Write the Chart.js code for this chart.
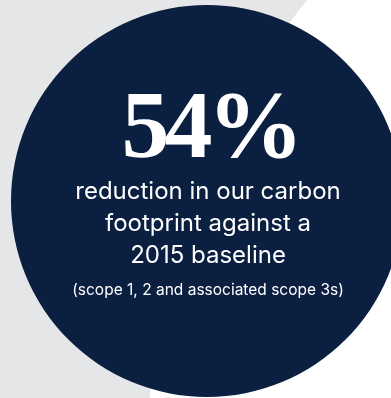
<!doctype html>
<html lang="en">
<head>
<meta charset="utf-8">
<title>54% reduction</title>
<style>
  * { box-sizing: border-box; margin: 0; padding: 0; }
  html, body { width: 391px; height: 398px; overflow: hidden; background: #fff; }
  .stage { position: relative; width: 414px; height: 402px; }
  canvas { position: absolute; left: 0; top: 0; }
  .txt { position: absolute; left: 0; width: 416px; text-align: center; color: #fff; white-space: nowrap; }
  .big { top: 70px; left: 2px; font: bold 96px "Liberation Serif", serif; letter-spacing: -5px; line-height: 110px; }
  .sub { top: 175px; font: 24px Inter, "Noto Sans", sans-serif; line-height: 32px; }
  .note { top: 281px; font: 15.5px Inter, "Noto Sans", sans-serif; line-height: 18px; }
</style>
</head>
<body>
<div class="stage">
  <canvas id="disc" width="414" height="402"></canvas>
  <div class="txt big" id="big"></div>
  <div class="txt sub" id="sub"></div>
  <div class="txt note" id="note"></div>
</div>
<script src="https://cdn.jsdelivr.net/npm/chart.js@4.4.1/dist/chart.umd.min.js"></script>
<script>
  // headline figure and the copy around it
  const headlineValue = 54;
  const headlineUnit = "%";
  const descLines = ["reduction in our carbon", "footprint against a", "2015 baseline"];
  const footnote = "(scope 1, 2 and associated scope 3s)";
  // the disc itself: one full slice
  const discLabels = ["Carbon footprint reduction"];
  const discValues = [100];

  const navy = "#0b1f40", grey = "#e5e6e8";

  // grey backdrop with the diagonal cut, painted before the disc
  const backdrop = {
    id: "backdrop",
    beforeDraw(chart) {
      const c = chart.ctx;
      c.save();
      c.fillStyle = "#fff";
      c.fillRect(0, 0, chart.width, chart.height);
      c.fillStyle = grey;
      c.beginPath();
      c.moveTo(0, 0); c.lineTo(307, 0); c.lineTo(150, 204); c.lineTo(150, 402); c.lineTo(0, 402);
      c.closePath();
      c.fill();
      c.restore();
    }
  };

  new Chart(document.getElementById("disc"), {
    type: "pie",
    data: { labels: discLabels, datasets: [{ data: discValues, backgroundColor: [navy], borderWidth: 0, radius: 196 }] },
    options: {
      responsive: false, animation: false, events: [],
      layout: { padding: 0 },
      plugins: { legend: { display: false }, tooltip: { enabled: false } }
    },
    plugins: [backdrop]
  });

  document.getElementById("big").textContent = headlineValue + headlineUnit;
  document.getElementById("sub").innerHTML = descLines.join("<br>");
  document.getElementById("note").textContent = footnote;
</script>
</body>
</html>
